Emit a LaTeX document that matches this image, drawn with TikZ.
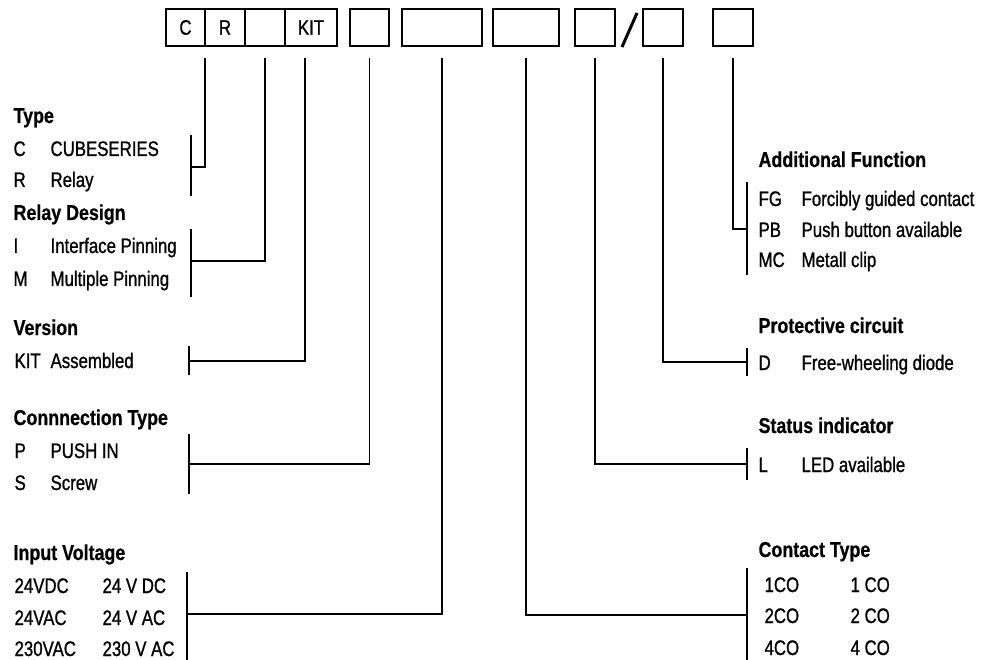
\documentclass[tikz,border=0pt]{standalone}
\usepackage{fontspec}
\setmainfont{Liberation Sans}[FakeStretch=0.8, FakeBold=1]
\newfontfamily\hdfont{Liberation Sans}[FakeStretch=0.83, FakeBold=0.6]

\begin{document}
\begin{tikzpicture}[x=1pt, y=-1pt, line width=1.2pt,
  box/.style={rectangle, draw, minimum height=37, inner sep=0pt, outer sep=0pt, font=\fontsize{21}{24}\selectfont},
  lbl/.style={anchor=base west, inner sep=0pt, font=\fontsize{21}{24}\selectfont},
  hd/.style={anchor=base west, inner sep=0pt, font=\hdfont\bfseries\fontsize{21.5}{24}\selectfont}]

\useasboundingbox (0,0) rectangle (985,660);

% code boxes
\draw (166,27.5) node (b1) [right, box, minimum width=39] {C};
\draw (b1.east) node (b2) [right, box, minimum width=40] {R};
\draw (b2.east) node (b3) [right, box, minimum width=40] {};
\draw (b3.east) node (b4) [right, box, minimum width=52] {KIT};
\draw ([xshift=13pt]b4.east) node (b5) [right, box, minimum width=39] {};
\draw ([xshift=13pt]b5.east) node (b6) [right, box, minimum width=80] {};
\draw ([xshift=11pt]b6.east) node (b7) [right, box, minimum width=66] {};
\draw ([xshift=16pt]b7.east) node (b8) [right, box, minimum width=40] {};
\draw ([xshift=28pt]b8.east) node (b9) [right, box, minimum width=40] {};
\draw ([xshift=30pt]b9.east) node (b10) [right, box, minimum width=40] {};

\draw [line width=3pt] ([xshift=7pt,yshift=-1pt]b8.south east) -- ([xshift=-6pt,yshift=-4pt]b9.north west);

\path (b1.south) -- +(0,12) coordinate(ltop);
\path ([xshift=-6pt]b4.south) coordinate(b4l);

% left side
\draw (13,123) node (ty) [hd] {Type};
\draw (13,156) node [lbl] {C};   \draw (50,156) node [lbl] {CUBESERIES};
\draw (13,187) node [lbl] {R};   \draw (50,187) node [lbl] {Relay};
\draw (191,135) -- (191,196);
\coordinate (tym) at (191,167);

\draw (13,220) node (rd) [hd] {Relay Design};
\draw (13,253) node [lbl] {I};   \draw (50,253) node [lbl] {Interface Pinning};
\draw (13,286) node [lbl] {M};   \draw (50,286) node [lbl] {Multiple Pinning};
\draw (191,229) -- (191,297);
\coordinate (rdm) at (191,261);

\draw (13,335) node (ve) [hd] {Version};
\draw (14,368) node [lbl] {KIT}; \draw (50,368) node [lbl] {Assembled};
\draw (189,346) -- (189,375);
\coordinate (vem) at (189,361);

\draw (13,425) node (ct) [hd] {Connnection Type};
\draw (14,458) node [lbl] {P};   \draw (50,458) node [lbl] {PUSH IN};
\draw (14,490) node [lbl] {S};   \draw (50,490) node [lbl] {Screw};
\draw (189,434) -- (189,494);
\coordinate (ctm) at (189,464);

\draw (13,560) node (iv) [hd] {Input Voltage};
\draw (14,593) node [lbl] {24VDC};  \draw (102,593) node [lbl] {24 V DC};
\draw (14,625) node [lbl] {24VAC};  \draw (102,625) node [lbl] {24 V AC};
\draw (14,656) node [lbl] {230VAC}; \draw (102,656) node [lbl] {230 V AC};
\draw (187,572) -- (187,660);
\coordinate (ivm) at (187,614);

% right side
\draw (758,167) node (af) [hd] {Additional Function};
\draw (758,206) node [lbl] {FG};  \draw (801,206) node [lbl] {Forcibly guided contact};
\draw (758,237) node [lbl] {PB};  \draw (801,237) node [lbl] {Push button available};
\draw (758,267) node [lbl] {MC};  \draw (801,267) node [lbl] {Metall clip};
\draw (747,182) -- (747,275);
\coordinate (afm) at (747,229);

\draw (758,333) node (pc) [hd] {Protective circuit};
\draw (758,370) node [lbl] {D};   \draw (801,370) node [lbl] {Free-wheeling diode};
\draw (747,348) -- (747,376);
\coordinate (pcm) at (747,362);

\draw (758,433) node (si) [hd] {Status indicator};
\draw (758,472) node [lbl] {L};   \draw (801,472) node [lbl] {LED available};
\draw (747,448) -- (747,480);
\coordinate (sim) at (747,464);

\draw (758,557) node (cot) [hd] {Contact Type};
\draw (764,592) node [lbl] {1CO};  \draw (850,592) node [lbl] {1 CO};
\draw (764,623) node [lbl] {2CO};  \draw (850,623) node [lbl] {2 CO};
\draw (764,655) node [lbl] {4CO};  \draw (850,655) node [lbl] {4 CO};
\draw (747,568) -- (747,660);
\coordinate (com) at (747,615);

% connectors
\draw (b1.east |- ltop) |- (tym);
\draw (b3.south |- ltop) |- (rdm);
\draw (b4l |- ltop) |- (vem);
\draw (b5.south |- ltop) |- (ctm);
\draw (b6.south |- ltop) |- (ivm);
\draw (b7.south |- ltop) |- (com);
\draw (b8.south |- ltop) |- (sim);
\draw (b9.south |- ltop) |- (pcm);
\draw (b10.south |- ltop) |- (afm);

\end{tikzpicture}
\end{document}
